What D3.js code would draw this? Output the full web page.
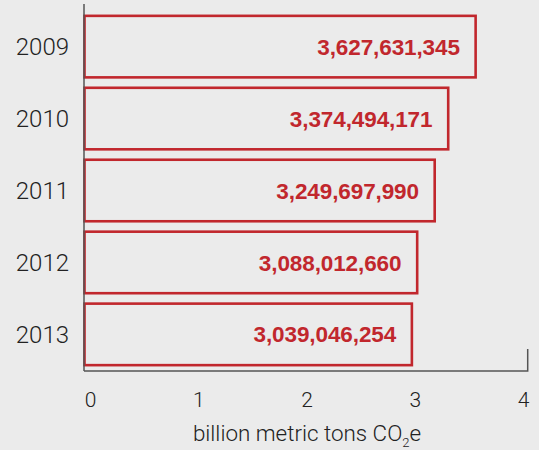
<!DOCTYPE html>
<html>
<head>
<meta charset="utf-8">
<script src="https://cdn.jsdelivr.net/npm/d3@7"></script>
<style>
  html, body { margin: 0; padding: 0; background: #ebebeb; }
  svg { display: block; }
</style>
</head>
<body>
<svg id="chart" width="539" height="450"></svg>
<script>
// Annual emissions, metric tons CO2e
const years = ["2009", "2010", "2011", "2012", "2013"];
const emissions = [3627631345, 3374494171, 3249697990, 3088012660, 3039046254];
const xTicks = [0, 1, 2, 3, 4];

const W = 539, H = 450;
const red = "#c1272d";
const axisColor = "#555";
const lightFont = "Roboto, 'Liberation Sans', sans-serif";

const svg = d3.select("#chart");
svg.append("rect").attr("width", W).attr("height", H).attr("fill", "#ebebeb");

const x = d3.scaleLinear().domain([0, 4]).range([84, 84 + 4 * 108.3]);
const y = d3.scaleBand().domain(years).range([11, 370]).paddingInner(0.11).paddingOuter(0.05);

const data = years.map((yr, i) => ({ year: yr, value: emissions[i] }));

// bars: outlined rectangles
svg.append("g").selectAll("rect")
  .data(data)
  .join("rect")
  .attr("x", x(0) + 0.5)
  .attr("y", d => y(d.year) + 1.25)
  .attr("width", d => x(d.value / 1e9) - x(0) - 1.75)
  .attr("height", y.bandwidth() - 2.5)
  .attr("fill", "#ebebeb")
  .attr("stroke", red)
  .attr("stroke-width", 2.6);

// value labels inside bars
const fmt = d3.format(",");
svg.append("g").selectAll("text")
  .data(data)
  .join("text")
  .attr("x", d => x(d.value / 1e9) - 17)
  .attr("y", d => y(d.year) + y.bandwidth() / 2)
  .attr("dy", "0.36em")
  .attr("text-anchor", "end")
  .attr("fill", red)
  .style("font-family", "'Liberation Sans', Arial, sans-serif")
  .style("font-weight", "bold")
  .style("font-size", "22.5px")
  .style("letter-spacing", "-0.1px")
  .text(d => fmt(d.value));

// year labels
svg.append("g").selectAll("text")
  .data(years)
  .join("text")
  .attr("x", 69)
  .attr("y", d => y(d) + y.bandwidth() / 2)
  .attr("dy", "0.36em")
  .attr("text-anchor", "end")
  .attr("fill", "#222")
  .style("font-family", lightFont)
  .style("font-weight", "300")
  .style("font-size", "24px")
  .text(d => d);

// vertical baseline at zero
svg.append("line")
  .attr("x1", x(0)).attr("x2", x(0))
  .attr("y1", 4).attr("y2", 371)
  .attr("stroke", axisColor).attr("stroke-width", 1.5);

// bottom axis
const xAxis = d3.axisBottom(x).tickValues(xTicks).tickSize(0).tickFormat(d3.format("d"));
const gx = svg.append("g").attr("transform", "translate(0,371)").call(xAxis);
gx.select(".domain").remove();
gx.selectAll("text")
  .attr("dx", 6)
  .attr("y", 21)
  .attr("fill", "#222")
  .style("font-family", lightFont)
  .style("font-weight", "300")
  .style("font-size", "21px");

const xEnd = x(4) + 10.5;
svg.append("path")
  .attr("d", `M${x(0)},371H${xEnd}V349`)
  .attr("fill", "none")
  .attr("stroke", axisColor)
  .attr("stroke-width", 1.5);

// axis title
const title = svg.append("text")
  .attr("x", 307)
  .attr("y", 440.5)
  .attr("text-anchor", "middle")
  .attr("fill", "#222")
  .style("font-family", lightFont)
  .style("font-weight", "300")
  .style("font-size", "22.4px");
title.append("tspan").text("billion metric tons CO");
title.append("tspan").attr("dy", 6).style("font-size", "13px").text("2");
title.append("tspan").attr("dy", -6).text("e");
</script>
</body>
</html>
